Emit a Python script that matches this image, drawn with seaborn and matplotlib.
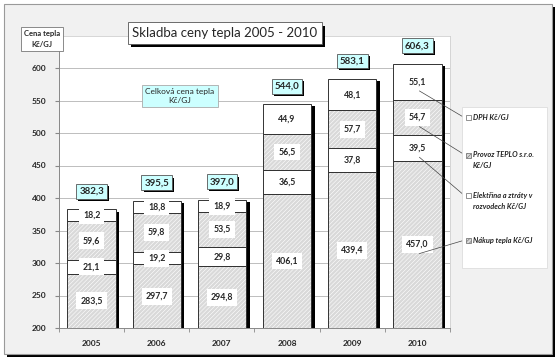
import matplotlib
matplotlib.use("Agg")
import matplotlib.pyplot as plt
import matplotlib.patheffects as pe
from matplotlib.patches import Rectangle
import numpy as np
import pandas as pd
import seaborn as sns

years = ["2005", "2006", "2007", "2008", "2009", "2010"]
nakup = [283.5, 297.7, 294.8, 406.1, 439.4, 457.0]
elektrina = [21.1, 19.2, 29.8, 36.5, 37.8, 39.5]
provoz = [59.6, 59.8, 53.5, 56.5, 57.7, 54.7]
dph = [18.2, 18.8, 18.9, 44.9, 48.1, 55.1]
totals = [382.3, 395.5, 397.0, 544.0, 583.1, 606.3]
legend_names = ["DPH Kč/GJ", "Provoz TEPLO s.r.o.\nKč/GJ",
                "Elektřina a ztráty v\nrozvodech Kč/GJ", "Nákup tepla Kč/GJ"]

sns.set_style("white")
plt.rcParams["font.family"] = ["Lato", "DejaVu Sans"]
plt.rcParams["hatch.color"] = "#a8a8a8"
plt.rcParams["hatch.linewidth"] = 0.4


def cz(v):
    return f"{v:.1f}".replace(".", ",")


df = pd.DataFrame({"year": years, "nakup": nakup, "elektrina": elektrina,
                   "provoz": provoz, "dph": dph})
df["c1"] = df["nakup"]
df["c2"] = df["c1"] + df["elektrina"]
df["c3"] = df["c2"] + df["provoz"]
df["c4"] = df["c3"] + df["dph"]

fig = plt.figure(figsize=(5.6, 3.62), dpi=100)
fig.patch.set_facecolor("white")

# outer chart frame
frame = Rectangle((4 / 560, 8 / 362), 548 / 560, 350 / 362, transform=fig.transFigure,
                  facecolor="#f1f1f1", edgecolor="#9a9a9a", lw=0.8, zorder=-10,
                  path_effects=[pe.SimplePatchShadow(offset=(2, -2), shadow_rgbFace="black", alpha=1),
                                pe.Normal()])
fig.patches.append(frame)

ax = fig.add_axes([59 / 560, 1 - 328 / 362, 391 / 560, 292.5 / 362])
ax.set_facecolor("white")

W = 0.74
# (cumulative column, fill, hatch, segment column, cumulative column below)
layers = [("c4", "white", None, "dph", "c3"),
          ("c3", "#d9d9d9", "////////", "provoz", "c2"),
          ("c2", "white", None, "elektrina", "c1"),
          ("c1", "#d9d9d9", "////////", "nakup", None)]
containers = []
for col, fc, hatch, seg, low in layers:
    sns.barplot(data=df, x="year", y=col, color=fc, width=W, saturation=1,
                hatch=hatch, linewidth=0, ax=ax, zorder=2)
    containers.append(ax.containers[-1])

# shadow behind each whole stack
for i, b in enumerate(containers[0]):
    ax.add_patch(Rectangle((b.get_x(), 0), b.get_width(), df["c4"][i], facecolor="white",
                           edgecolor="none", zorder=1.8,
                           path_effects=[pe.SimplePatchShadow(offset=(2.5, -1.5),
                                                              shadow_rgbFace="black", alpha=1),
                                         pe.Normal()]))

# segment outlines and value labels
for cont, (col, fc, hatch, seg, low) in zip(containers, layers):
    for i, b in enumerate(cont):
        lo = df[low][i] if low else 0
        ax.add_patch(Rectangle((b.get_x(), lo), b.get_width(), df[col][i] - lo,
                               fill=False, edgecolor="#333333", lw=0.7, zorder=3))
        mid = ((df[low][i] if low else 200) + df[col][i]) / 2
        ax.text(i, mid, cz(df[seg][i]), ha="center", va="center", fontsize=6.3,
                fontweight="bold", zorder=5,
                bbox=dict(boxstyle="square,pad=0.45", fc="white", ec="none"))

# total labels
for i, tot in enumerate(totals):
    t = ax.annotate(cz(tot), (i, df["c4"][i]), xytext=(0, 13), textcoords="offset points",
                    ha="center", va="center", fontsize=7, fontweight="bold", zorder=6,
                    bbox=dict(boxstyle="square,pad=0.3", fc="#ccffff", ec="#555555", lw=0.6))
    t.get_bbox_patch().set_path_effects(
        [pe.SimplePatchShadow(offset=(1.5, -1.5), shadow_rgbFace="black", alpha=1), pe.Normal()])

ax.set_ylim(200, 650)
ax.set_xlim(-0.5, 5.5)
ax.set_yticks(range(200, 601, 50))
ax.yaxis.grid(True, color="#bdbdbd", lw=0.7, zorder=0)
ax.set_axisbelow(True)
ax.set_xlabel("")
ax.set_ylabel("")
ax.tick_params(axis="x", length=0, pad=9, labelsize=6)
ax.tick_params(axis="y", length=3, color="#888888", pad=6, labelsize=6, left=True)
ax.set_xticks(np.arange(-0.5, 6, 1), minor=True)
ax.tick_params(axis="x", which="minor", length=3, color="#888888", bottom=True)
for lab in ax.get_xticklabels() + ax.get_yticklabels():
    lab.set_fontweight("bold")
for s in ["top", "right"]:
    ax.spines[s].set_color("#d0d0d0")
    ax.spines[s].set_linewidth(0.6)
for s in ["left", "bottom"]:
    ax.spines[s].set_color("#888888")
    ax.spines[s].set_linewidth(0.7)

# title
tt = fig.text(225 / 560, 1 - 33 / 362, "Skladba ceny tepla 2005 - 2010", ha="center",
              va="center", fontsize=9.5,
              bbox=dict(boxstyle="square,pad=0.35", fc="white", ec="#555555", lw=0.6))
tt.get_bbox_patch().set_path_effects(
    [pe.SimplePatchShadow(offset=(2, -2.5), shadow_rgbFace="black", alpha=1), pe.Normal()])

fig.text(42 / 560, 1 - 39 / 362, "Cena tepla\nKč/GJ", ha="center", va="center",
         fontsize=5.5, fontweight="bold", linespacing=1.6,
         bbox=dict(boxstyle="square,pad=0.4", fc="white", ec="#777777", lw=0.6))

fig.text(180 / 560, 1 - 96 / 362, "Celková cena tepla\nKč/GJ", ha="center", va="center",
         fontsize=6, linespacing=1.3,
         bbox=dict(boxstyle="square,pad=0.4", fc="#ccffff", ec="#aaaaaa", lw=0.6))

# legend panel with leader lines from the 2010 bar
fig.patches.append(Rectangle((462 / 560, 1 - 268 / 362), 85 / 560, 161 / 362,
                             transform=fig.transFigure, facecolor="white",
                             edgecolor="#dddddd", lw=0.6, zorder=1))
leg_y = [118, 155, 196, 240]
for name, y, (col, fc, hatch, seg, low) in zip(legend_names, leg_y, layers):
    fy = 1 - y / 362
    fig.patches.append(Rectangle((466 / 560, fy - 2.5 / 362), 5 / 560, 5 / 362,
                                 transform=fig.transFigure, facecolor=fc, hatch=hatch,
                                 edgecolor="#666666", lw=0.5, zorder=2))
    fig.text(473 / 560, fy + 4 / 362 if "\n" in name else fy, name, ha="left",
             va="top" if "\n" in name else "center",
             fontsize=5.3, fontweight="bold", style="italic", linespacing=1.6,
             color="#222222", zorder=3)
    mid = ((df[low][5] if low else 200) + df[col][5]) / 2
    ax.annotate("", xy=(465 / 560, fy), xycoords="figure fraction",
                xytext=(5.03, mid - 14), textcoords="data",
                arrowprops=dict(arrowstyle="-", color="#444444", lw=0.5,
                                shrinkA=0, shrinkB=0), zorder=7, annotation_clip=False)

fig.savefig("out.png", dpi=100, facecolor=fig.get_facecolor())
